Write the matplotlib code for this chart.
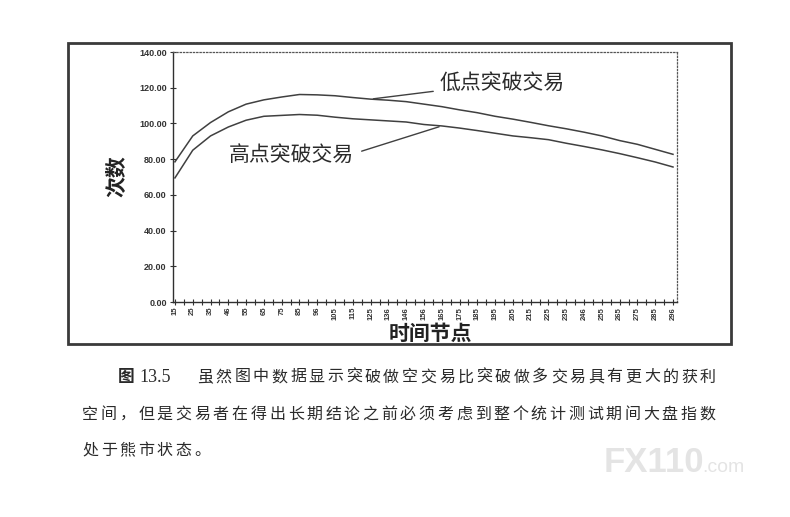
import matplotlib.pyplot as plt
from matplotlib.patches import Rectangle
from matplotlib.ticker import FixedLocator
import numpy as np

# 数据：横轴时间节点（每隔一个类别标注一次）
labels = ['15', '25', '35', '46', '55', '65', '75', '85', '96', '105', '115', '125', '136', '146',
          '156', '165', '175', '185', '195', '205', '215', '225', '235', '246', '255', '265',
          '275', '285', '296']
low_break = [78.5, 93.0, 100.5, 106.5, 110.8, 113.2, 114.8, 116.2, 116.0, 115.5, 114.5, 113.6,
             113.0, 112.2, 110.8, 109.4, 107.6, 106.0, 104.0, 102.4, 100.6, 98.7, 97.0, 95.1,
             93.0, 90.4, 88.3, 85.5, 82.7]
high_break = [69.5, 85.0, 93.0, 98.0, 101.8, 104.0, 104.5, 105.0, 104.6, 103.5, 102.6, 102.0,
              101.4, 100.8, 99.4, 98.6, 97.4, 96.0, 94.5, 93.0, 92.0, 90.9, 88.9, 87.1,
              85.2, 83.1, 80.8, 78.4, 75.6]
yticks = [0, 20, 40, 60, 80, 100, 120, 140]

caption1 = '虽然图中数据显示突破做空交易比突破做多交易具有更大的获利'
caption2 = '空间，但是交易者在得出长期结论之前必须考虑到整个统计测试期间大盘指数'
caption3 = '处于熊市状态。'

W, H = 790, 517
cjk = ['Noto Sans CJK SC', 'DejaVu Sans']
ink = '#333333'

fig = plt.figure(figsize=(W / 100, H / 100), dpi=100)
fig.patch.set_facecolor('white')

def fx(px):
    return px / W

def fy(py):
    return 1 - py / H

# 外框
fig.patches.append(Rectangle((fx(68), fy(344)), fx(731) - fx(68), fy(43) - fy(344),
                             transform=fig.transFigure, fill=False, lw=2.0, ec='#3a3a3a'))

ax = fig.add_axes([fx(173), fy(302), fx(677) - fx(173), fy(52) - fy(302)])
x = np.arange(len(labels)) * 2
ax.plot(x, low_break, color='#404040', lw=1.1)
ax.plot(x, high_break, color='#404040', lw=1.1)

ax.set_xlim(-0.22, 56.45)
ax.set_ylim(0, 140)
ax.set_yticks(yticks)
ax.set_yticklabels(['%.2f' % v for v in yticks], fontsize=6.5, fontweight='bold',
                   family='Liberation Sans', color=ink)
ax.set_xticks(x)
ax.set_xticklabels(labels, rotation=90, fontsize=5.5, fontweight='bold',
                   family='Liberation Sans', color=ink)
ax.xaxis.set_minor_locator(FixedLocator(x[:-1] + 1))
ax.tick_params(axis='both', which='both', direction='inout', length=5, width=0.8, color=ink)
ax.tick_params(axis='y', pad=2)
ax.tick_params(axis='x', pad=1)

for s in ['left', 'bottom']:
    ax.spines[s].set_color('#303030')
    ax.spines[s].set_linewidth(1.0)
for s in ['top', 'right']:
    ax.spines[s].set_color('#555555')
    ax.spines[s].set_linestyle(':')
    ax.spines[s].set_linewidth(0.9)

# 轴标题
fig.text(fx(117), fy(176), '次数', rotation=90, ha='center', va='center', fontsize=15,
         fontweight='bold', family=cjk, color='#222222')
fig.text(fx(430), fy(333), '时间节点', ha='center', va='center', fontsize=15,
         fontweight='bold', family=cjk, color='#222222')

# 注释
fig.text(fx(440), fy(83), '低点突破交易', ha='left', va='center', fontsize=15, family=cjk,
         color='#2a2a2a')
fig.text(fx(229), fy(155), '高点突破交易', ha='left', va='center', fontsize=15, family=cjk,
         color='#2a2a2a')
ax.annotate('', xy=(x[11], low_break[11]), xytext=(fx(436), fy(91)), textcoords='figure fraction',
            arrowprops=dict(arrowstyle='-', color='#404040', lw=1.0))
ax.annotate('', xy=(x[15], high_break[15]), xytext=(fx(359), fy(152)), textcoords='figure fraction',
            arrowprops=dict(arrowstyle='-', color='#404040', lw=1.0))

# 图注文字（逐字等距排版）
def put_line(text, x0, y0, pitch, size=11.5):
    for i, ch in enumerate(text):
        fig.text(fx(x0 + i * pitch), fy(y0), ch, ha='left', va='center', fontsize=size,
                 family=cjk, fontweight='light', color='#2a2a2a')

fig.text(fx(118), fy(377), '图', ha='left', va='center', fontsize=12, family=cjk,
         fontweight='bold', color='#2a2a2a')
fig.text(fx(139), fy(377), '13.5', ha='left', va='center', fontsize=13,
         family='Liberation Serif', color='#2a2a2a')
put_line(caption1, 197, 377, 18.62)
put_line(caption2, 82, 414, 18.7)
put_line(caption3, 82, 450, 18.7)

# 水印
fig.text(fx(604), fy(462), 'FX110', ha='left', va='center', fontsize=25, fontweight='bold',
         family='Liberation Sans', color='#e4e4e4')
fig.text(fx(702), fy(467), '.com', ha='left', va='center', fontsize=14,
         family='Liberation Sans', color='#e4e4e4')

fig.savefig('out.png', dpi=100)
